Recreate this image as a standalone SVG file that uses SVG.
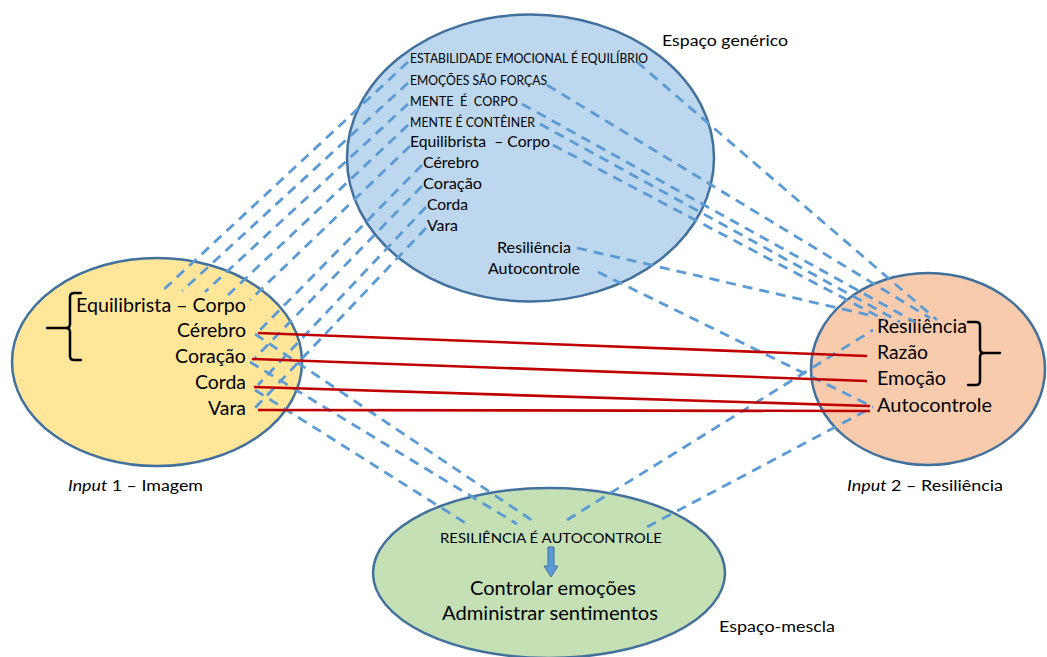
<svg xmlns="http://www.w3.org/2000/svg" width="1047" height="657" viewBox="0 0 1047 657">
  <style>
    .space { stroke: #41719c; stroke-width: 2.5; }
    .generic { fill: #bdd7ee; }
    .input1 { fill: #ffe699; }
    .input2 { fill: #f8cbad; }
    .blend { fill: #c5e0b4; }
    text { font-family: Lato, "Liberation Sans", Arial, sans-serif; fill: #000; white-space: pre; }
    .caps { font-size: 13px; }
    .small { font-size: 15px; }
    .big { font-size: 18.5px; }
    .label { font-size: 15.5px; }
    .dash { stroke: #5b9bd5; stroke-width: 2.8; stroke-dasharray: 10 7; fill: none; }
    .map { stroke: #c00000; stroke-width: 2.6; fill: none; }
    .brace { stroke: #000; stroke-width: 2.5; fill: none; stroke-linecap: round; }
  </style>

  <!-- Generic space -->
  <g id="generic-space">
    <ellipse class="space generic" cx="530.5" cy="158" rx="183.5" ry="143.5"/>
    <text class="caps" x="410" y="63" textLength="238" lengthAdjust="spacingAndGlyphs">ESTABILIDADE EMOCIONAL É EQUILÍBRIO</text>
    <text class="caps" x="410" y="85" textLength="137" lengthAdjust="spacingAndGlyphs">EMOÇÕES SÃO FORÇAS</text>
    <text class="caps" x="410" y="106" textLength="108" lengthAdjust="spacingAndGlyphs">MENTE  É  CORPO</text>
    <text class="caps" x="410" y="127" textLength="125" lengthAdjust="spacingAndGlyphs">MENTE É CONTÊINER</text>
    <text class="small" x="410" y="147" textLength="140" lengthAdjust="spacingAndGlyphs">Equilibrista  – Corpo</text>
    <text class="small" x="423" y="168" textLength="56" lengthAdjust="spacingAndGlyphs">Cérebro</text>
    <text class="small" x="423" y="189" textLength="59" lengthAdjust="spacingAndGlyphs">Coração</text>
    <text class="small" x="427" y="210" textLength="41" lengthAdjust="spacingAndGlyphs">Corda</text>
    <text class="small" x="427" y="231" textLength="31" lengthAdjust="spacingAndGlyphs">Vara</text>
    <text class="small" x="497" y="253" textLength="74" lengthAdjust="spacingAndGlyphs">Resiliência</text>
    <text class="small" x="488" y="274" textLength="92" lengthAdjust="spacingAndGlyphs">Autocontrole</text>
    <text class="label" x="662" y="46" textLength="126" lengthAdjust="spacingAndGlyphs">Espaço genérico</text>
  </g>

  <!-- Input 1 -->
  <g id="input-1">
    <ellipse class="space input1" cx="157" cy="362" rx="145" ry="104"/>
    <path class="brace" d="M81,293 H74 Q70,293 70,297 V324 Q70,328 66,328 H47 M66,328 Q70,328 70,332 V356 Q70,360 74,360 H81"/>
    <text class="big" x="76" y="312" textLength="170" lengthAdjust="spacingAndGlyphs">Equilibrista – Corpo</text>
    <text class="big" x="246" y="337" text-anchor="end" textLength="69" lengthAdjust="spacingAndGlyphs">Cérebro</text>
    <text class="big" x="246" y="363" text-anchor="end" textLength="71" lengthAdjust="spacingAndGlyphs">Coração</text>
    <text class="big" x="246" y="389" text-anchor="end" textLength="51" lengthAdjust="spacingAndGlyphs">Corda</text>
    <text class="big" x="246" y="415" text-anchor="end" textLength="38" lengthAdjust="spacingAndGlyphs">Vara</text>
    <text class="label" x="68" y="491" textLength="135" lengthAdjust="spacingAndGlyphs"><tspan font-style="italic">Input</tspan> 1 – Imagem</text>
  </g>

  <!-- Input 2 -->
  <g id="input-2">
    <ellipse class="space input2" cx="928" cy="369" rx="117" ry="96"/>
    <path class="brace" d="M968,322 H976 Q980,322 980,326 V349 Q980,353 984,353 H1000 M984,353 Q980,353 980,357 V381 Q980,385 976,385 H968"/>
    <text class="big" x="877" y="333" textLength="90" lengthAdjust="spacingAndGlyphs">Resiliência</text>
    <text class="big" x="877" y="359" textLength="51" lengthAdjust="spacingAndGlyphs">Razão</text>
    <text class="big" x="877" y="385" textLength="69" lengthAdjust="spacingAndGlyphs">Emoção</text>
    <text class="big" x="877" y="412" textLength="115" lengthAdjust="spacingAndGlyphs">Autocontrole</text>
    <text class="label" x="847" y="491" textLength="156" lengthAdjust="spacingAndGlyphs"><tspan font-style="italic">Input</tspan> 2 – Resiliência</text>
  </g>

  <!-- Blended space -->
  <g id="blended-space">
    <ellipse class="space blend" cx="549" cy="573" rx="176" ry="85"/>
    <text x="440" y="543" font-size="14" textLength="222" lengthAdjust="spacingAndGlyphs">RESILIÊNCIA É AUTOCONTROLE</text>
    <path d="M548,547 H554 V566 H558 L551,577 L544,566 H548 Z" fill="#5b9bd5" stroke="#41719c" stroke-width="1"/>
    <text class="big" x="470" y="595" textLength="166" lengthAdjust="spacingAndGlyphs">Controlar emoções</text>
    <text class="big" x="442" y="620" textLength="216" lengthAdjust="spacingAndGlyphs">Administrar sentimentos</text>
    <text x="719" y="632" font-size="14.5" textLength="116" lengthAdjust="spacingAndGlyphs">Espaço-mescla</text>
  </g>

  <!-- Connectors -->
  <g id="connectors">
    <!-- generic space to input 1 -->
    <line class="dash" x1="408" y1="62" x2="160" y2="293"/>
    <line class="dash" x1="408" y1="83" x2="182" y2="291"/>
    <line class="dash" x1="408" y1="104" x2="205" y2="292"/>
    <line class="dash" x1="408" y1="125" x2="228" y2="295"/>
    <line class="dash" x1="410" y1="146" x2="250" y2="300"/>
    <line class="dash" x1="422" y1="165" x2="258" y2="332"/>
    <line class="dash" x1="422" y1="186" x2="255" y2="358"/>
    <line class="dash" x1="426" y1="207" x2="258" y2="385"/>
    <line class="dash" x1="426" y1="228" x2="255" y2="408"/>
    <!-- generic space to input 2 -->
    <line class="dash" x1="637" y1="62" x2="937" y2="320"/>
    <line class="dash" x1="547" y1="85" x2="930" y2="318"/>
    <line class="dash" x1="522" y1="104" x2="915" y2="322"/>
    <line class="dash" x1="540" y1="124" x2="900" y2="322"/>
    <line class="dash" x1="553" y1="145" x2="885" y2="320"/>
    <line class="dash" x1="577" y1="248" x2="873" y2="316"/>
    <line class="dash" x1="598" y1="272" x2="873" y2="407"/>
    <!-- input 1 to blended space -->
    <line class="dash" x1="255" y1="334" x2="533" y2="521"/>
    <line class="dash" x1="250" y1="362" x2="517" y2="524"/>
    <line class="dash" x1="255" y1="390" x2="467" y2="524"/>
    <!-- blended space to input 2 -->
    <line class="dash" x1="567" y1="520" x2="873" y2="330"/>
    <line class="dash" x1="647" y1="527" x2="873" y2="407"/>
    <!-- cross-space mapping -->
    <line class="map" x1="258" y1="333" x2="867" y2="356"/>
    <line class="map" x1="252" y1="359" x2="867" y2="381"/>
    <line class="map" x1="254" y1="387" x2="870" y2="406"/>
    <line class="map" x1="258" y1="410" x2="870" y2="411"/>
  </g>
</svg>
